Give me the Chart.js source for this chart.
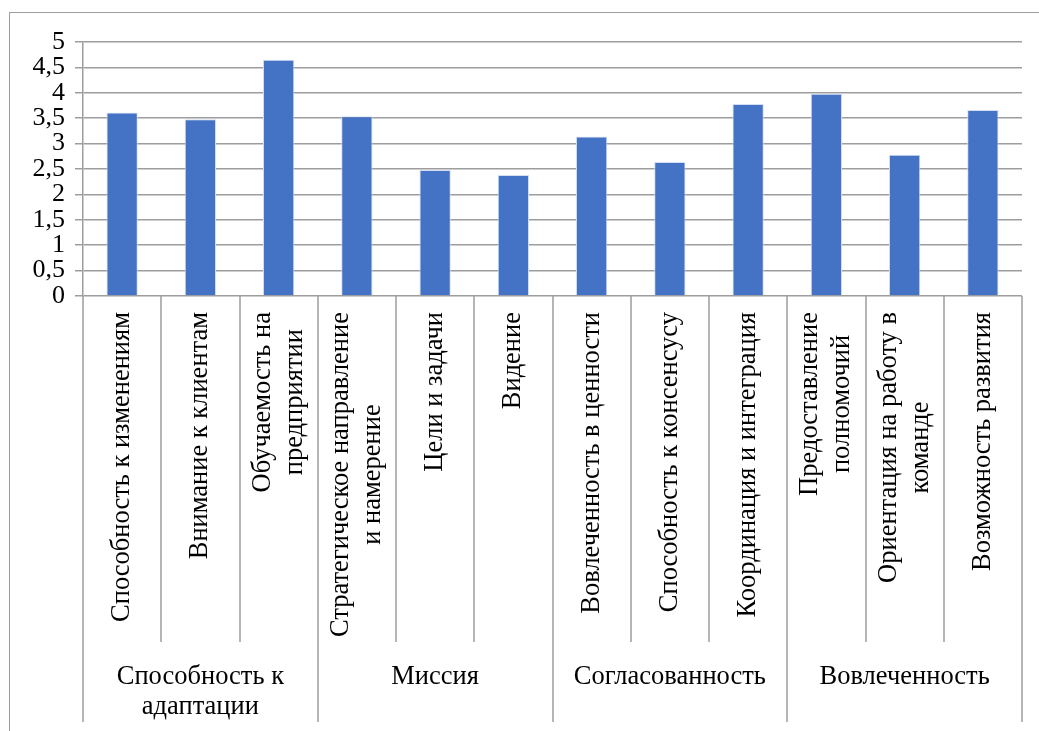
<!DOCTYPE html>
<html>
<head>
<meta charset="utf-8">
<script src="https://cdn.jsdelivr.net/npm/chart.js@4"></script>
<style>
  html, body { margin: 0; padding: 0; background: #fff; }
  canvas { display: block; }
</style>
</head>
<body>
<canvas id="chart" width="1039" height="731"></canvas>
<script>
// categories (wrapped lines as arrays), grouped under the second-level labels
const categories = [
  ['Способность к изменениям'],
  ['Внимание к клиентам'],
  ['Обучаемость на', 'предприятии'],
  ['Стратегическое направление', 'и намерение'],
  ['Цели и задачи'],
  ['Видение'],
  ['Вовлеченность в ценности'],
  ['Способность к консенсусу'],
  ['Координация и интеграция'],
  ['Предоставление', 'полномочий'],
  ['Ориентация на работу в', 'команде'],
  ['Возможность развития']
];
const values = [3.61, 3.48, 4.65, 3.54, 2.48, 2.38, 3.14, 2.64, 3.78, 3.98, 2.78, 3.66];
const groups = [
  ['Способность к', 'адаптации'],
  ['Миссия'],
  ['Согласованность'],
  ['Вовлеченность']
];
const groupSizes = [3, 3, 3, 3];
const yMin = 0, yMax = 5, yStep = 0.5;

const FONT = "'Liberation Serif', 'Times New Roman', serif";
const LINE = '#9d9d9d';

// draws the frame and the two-level category axis under the plot
const categoryAxis = {
  id: 'categoryAxis',
  beforeDraw(chart) {
    const ctx = chart.ctx;
    ctx.save();
    ctx.strokeStyle = LINE;
    ctx.lineWidth = 1;
    ctx.strokeRect(9.5, 12.5, 1100, 800);
    ctx.restore();
  },
  afterDraw(chart) {
    const ctx = chart.ctx;
    const area = chart.chartArea;
    const xs = chart.scales.x;
    const n = categories.length;
    const step = (area.right - area.left) / n;
    const top = area.bottom;
    const innerBottom = 642;
    const groupBottom = 722;

    ctx.save();
    ctx.strokeStyle = LINE;
    ctx.lineWidth = 1.5;

    // boundaries between categories
    const groupEdges = new Set([0]);
    let acc = 0;
    groupSizes.forEach(s => { acc += s; groupEdges.add(acc); });
    for (let i = 0; i <= n; i++) {
      const x = Math.round(area.left + step * i);
      ctx.beginPath();
      ctx.moveTo(x, top);
      ctx.lineTo(x, groupEdges.has(i) ? groupBottom : innerBottom);
      ctx.stroke();
    }

    // rotated category labels
    ctx.fillStyle = '#000';
    ctx.font = '26.5px ' + FONT;
    ctx.textAlign = 'center';
    ctx.textBaseline = 'middle';
    const lineGap = 32;
    categories.forEach((lines, i) => {
      const cx = xs.getPixelForValue(i);
      const w = Math.max(...lines.map(l => ctx.measureText(l).width));
      const cy = top + 16 + w / 2;
      lines.forEach((l, j) => {
        const off = (j - (lines.length - 1) / 2) * lineGap;
        ctx.save();
        ctx.translate(cx + off, cy);
        ctx.rotate(-Math.PI / 2);
        ctx.fillText(l, 0, 0);
        ctx.restore();
      });
    });

    // group labels
    let start = 0;
    groups.forEach((lines, g) => {
      const x0 = area.left + step * start;
      const x1 = area.left + step * (start + groupSizes[g]);
      lines.forEach((l, j) => {
        ctx.fillText(l, (x0 + x1) / 2, 677 + j * 30);
      });
      start += groupSizes[g];
    });
    ctx.restore();
  }
};

new Chart(document.getElementById('chart'), {
  type: 'bar',
  data: {
    labels: categories.map(c => c.join(' ')),
    datasets: [{
      data: values,
      backgroundColor: '#4472C4',
      borderColor: '#d3def2',
      borderWidth: 1,
      categoryPercentage: 1,
      barPercentage: 0.4
    }]
  },
  options: {
    responsive: false,
    animation: false,
    layout: { padding: { top: 42, right: 17, bottom: 435, left: 0 } },
    plugins: { legend: { display: false }, tooltip: { enabled: false } },
    scales: {
      x: { display: false },
      y: {
        min: yMin,
        max: yMax,
        afterFit(scale) { scale.width = 83; },
        ticks: {
          stepSize: yStep,
          autoSkip: false,
          color: '#000',
          padding: 10,
          font: { family: FONT, size: 26 },
          callback: v => String(v).replace('.', ',')
        },
        grid: { color: LINE, lineWidth: 1.5, tickLength: 8 },
        border: { color: LINE, width: 1.5 }
      }
    }
  },
  plugins: [categoryAxis]
});
</script>
</body>
</html>
